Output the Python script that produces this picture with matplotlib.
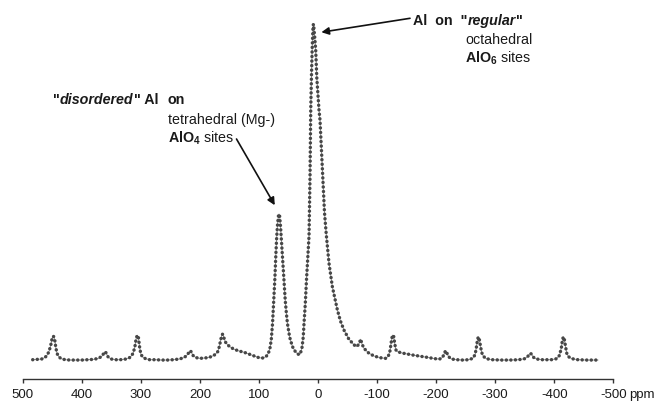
import matplotlib
matplotlib.use("Agg")
import matplotlib.pyplot as plt
import numpy as np

# ---- data: chemical shift (ppm) and relative intensity ----
ppm = [483, 475, 468, 462, 458, 455, 452, 450, 448, 446, 444, 442, 439, 435, 428,
       420, 410, 400, 390, 380, 372, 366, 362, 360, 358, 355, 350, 343, 335, 325,
       318, 313, 310, 308, 306, 304, 302, 300, 297, 292, 285, 275, 265, 255, 245,
       235, 227, 222, 218, 216, 214, 211, 206, 200, 192, 184, 176, 170, 167, 165,
       163, 161.5, 160, 157, 153, 148, 142, 134, 125, 116, 108, 100, 94, 88, 84,
       81, 79, 77, 75, 73, 71.5, 70, 68.5, 67, 66, 65, 63.5, 62, 60.2, 58,
       55.5, 53.5, 51.7, 48, 43.3, 38, 34, 32, 30, 27, 25, 23.7, 21.5, 19.5, 17.5,
       15.2, 13.5, 12.3, 11, 9.8, 8.5, 7.8, 7, 5.5, 3.9, 2, -1.7, -3.4, -6, -9,
       -11, -14, -18.6, -24.3, -32.8, -38, -44, -52, -60.9, -66, -70, -72.2, -74.5, -77.8, -85,
       -94.7, -105, -114.5, -119, -122, -124, -126, -128, -130, -132, -134.2, -142, -151, -160, -170.8,
       -185, -198, -206, -211, -214, -216, -218, -221, -226, -235, -245, -255, -262, -266, -268,
       -270, -271.5, -273, -275, -277, -280, -285, -295, -310, -325, -340, -350, -355, -358, -360,
       -362, -365, -370, -380, -395, -404, -409, -412, -414, -415.5, -417, -419, -421, -424, -430,
       -440, -455, -474]
intensity = [0.3, 0.4, 0.5, 1.0, 1.8, 3.0, 5.0, 6.8, 7.3, 6.5, 4.0, 2.2, 1.2, 0.6, 0.3,
             0.2, 0.2, 0.2, 0.3, 0.4, 0.7, 1.3, 2.4, 2.7, 2.0, 1.0, 0.5, 0.3, 0.3, 0.5,
             1.0, 2.2, 4.2, 6.5, 7.6, 6.8, 4.0, 2.0, 1.1, 0.6, 0.3, 0.3, 0.2, 0.2, 0.3,
             0.5, 0.9, 1.6, 2.6, 3.0, 2.4, 1.4, 0.9, 0.7, 0.8, 1.0, 1.6, 2.6, 4.2, 6.0,
             7.5, 7.9, 7.2, 5.6, 4.7, 4.0, 3.4, 2.9, 2.5, 1.9, 1.4, 0.9, 0.8, 1.2, 2.2,
             4.0, 6.5, 11.0, 17.5, 24.5, 31.0, 36.5, 40.5, 43.0, 43.6, 43.0, 40.0, 36.0, 31.0, 25.0,
             18.0, 14.0, 11.0, 7.0, 4.2, 2.6, 2.0, 1.8, 2.0, 4.0, 7.0, 11.0, 17.0, 24.0, 30.0,
             37.0, 55.0, 74.5, 85.0, 93.0, 99.0, 100.0, 99.0, 96.0, 92.3, 84.0, 74.5, 71.5, 62.0, 51.0,
             44.0, 37.5, 29.0, 22.0, 15.1, 11.8, 9.1, 6.5, 4.7, 4.2, 5.2, 6.4, 5.0, 3.7, 2.4,
             1.4, 0.9, 0.7, 1.3, 3.0, 5.5, 7.6, 7.4, 5.0, 3.2, 2.7, 2.3, 2.0, 1.7, 1.4,
             1.0, 0.6, 0.5, 1.0, 2.2, 3.0, 2.4, 1.2, 0.5, 0.3, 0.2, 0.3, 0.7, 1.8, 3.8,
             6.2, 7.1, 6.5, 4.5, 2.5, 1.3, 0.6, 0.3, 0.2, 0.2, 0.3, 0.6, 1.2, 2.0, 2.2,
             1.8, 1.0, 0.5, 0.3, 0.3, 0.6, 1.6, 3.8, 6.3, 7.1, 6.5, 4.3, 2.3, 1.2, 0.6,
             0.3, 0.2, 0.2]
xticks = [500, 400, 300, 200, 100, 0, -100, -200, -300, -400, -500]
xticklabels = ["500", "400", "300", "200", "100", "0", "-100", "-200", "-300", "-400", "-500"]

# ---- styling ----
plt.rcParams["font.family"] = ["Liberation Sans", "DejaVu Sans"]
plt.rcParams["axes.unicode_minus"] = False
plt.rcParams["mathtext.fontset"] = "custom"
plt.rcParams["mathtext.rm"] = "Liberation Sans"
plt.rcParams["mathtext.it"] = "Liberation Sans:italic"
plt.rcParams["mathtext.bf"] = "Liberation Sans:bold"

W, H = 656, 401
fig = plt.figure(figsize=(W / 100, H / 100), dpi=100)
ax_left = 22.7 / W
ax_right = 613.3 / W
ax_bottom = (H - 379.3) / H
ax_top = (H - 10) / H
ax = fig.add_axes([ax_left, ax_bottom, ax_right - ax_left, ax_top - ax_bottom])

dot_color = "#474747"
ax.plot(ppm, intensity, color="#8a8a8a", lw=0.6, zorder=2)
ax.plot(ppm, intensity, color=dot_color, lw=2.5, linestyle=(0, (0.01, 1.3)),
        dash_capstyle="round", solid_capstyle="round", zorder=3)

ax.set_xlim(500, -500)
ax.set_ylim(-5.52, 104.2)
ax.set_yticks([])
for s in ["left", "right", "top"]:
    ax.spines[s].set_visible(False)
ax.spines["bottom"].set_color("#333333")
ax.spines["bottom"].set_linewidth(1.0)
ax.set_xticks(xticks)
ax.set_xticklabels(xticklabels)
ax.tick_params(axis="x", direction="out", length=2.6, width=1.0, color="#333333",
               labelsize=9.5, labelcolor="#1a1a1a", pad=4.5)

fig.text(629 / W, 1 - 398.3 / H, "ppm", fontsize=9.5, color="#1a1a1a",
         ha="left", va="baseline")

txt_color = "#1a1a1a"
fs = 10.3
renderer = fig.canvas.get_renderer()


def styled_line(x_px, y_px, pieces):
    """Draw (text, weight, style) pieces one after another on a common baseline."""
    x = x_px
    for s, weight, style in pieces:
        t = fig.text(x / W, 1 - y_px / H, s, fontsize=fs, color=txt_color,
                     fontweight=weight, fontstyle=style, ha="left", va="baseline")
        bb = t.get_window_extent(renderer=renderer)
        x += bb.width


# right annotation (regular octahedral)
styled_line(413, 25, [("Al  on  \"", "bold", "normal"),
                      ("regular", "bold", "italic"),
                      ("\"", "bold", "normal")])
fig.text(465 / W, 1 - 43.5 / H, "octahedral", fontsize=fs, color=txt_color,
         ha="left", va="baseline")
fig.text(465 / W, 1 - 62.5 / H, r"$\mathbf{AlO_6}$ sites", fontsize=fs, color=txt_color,
         ha="left", va="baseline")

# left annotation (disordered tetrahedral)
styled_line(53.3, 104.5, [("\"", "bold", "normal"),
                          ("disordered", "bold", "italic"),
                          ("\" Al", "bold", "normal")])
fig.text(167.7 / W, 1 - 104.5 / H, "on", fontsize=fs, color=txt_color,
         fontweight="bold", ha="left", va="baseline")
fig.text(167.7 / W, 1 - 123.5 / H, "tetrahedral (Mg-)", fontsize=fs, color=txt_color,
         ha="left", va="baseline")
fig.text(167.7 / W, 1 - 142.5 / H, r"$\mathbf{AlO_4}$ sites", fontsize=fs, color=txt_color,
         ha="left", va="baseline")

arrow = dict(arrowstyle="-|>", lw=1.2, color="#111111", mutation_scale=11,
             shrinkA=0, shrinkB=0)
ax.annotate("", xy=(-5.7, 97.6), xycoords="data",
            xytext=(410 / W, 1 - 18.3 / H), textcoords="figure fraction",
            arrowprops=arrow)
ax.annotate("", xy=(73.2, 46.2), xycoords="data",
            xytext=(236.5 / W, 1 - 139 / H), textcoords="figure fraction",
            arrowprops=arrow)

fig.savefig("out.png", dpi=100)
